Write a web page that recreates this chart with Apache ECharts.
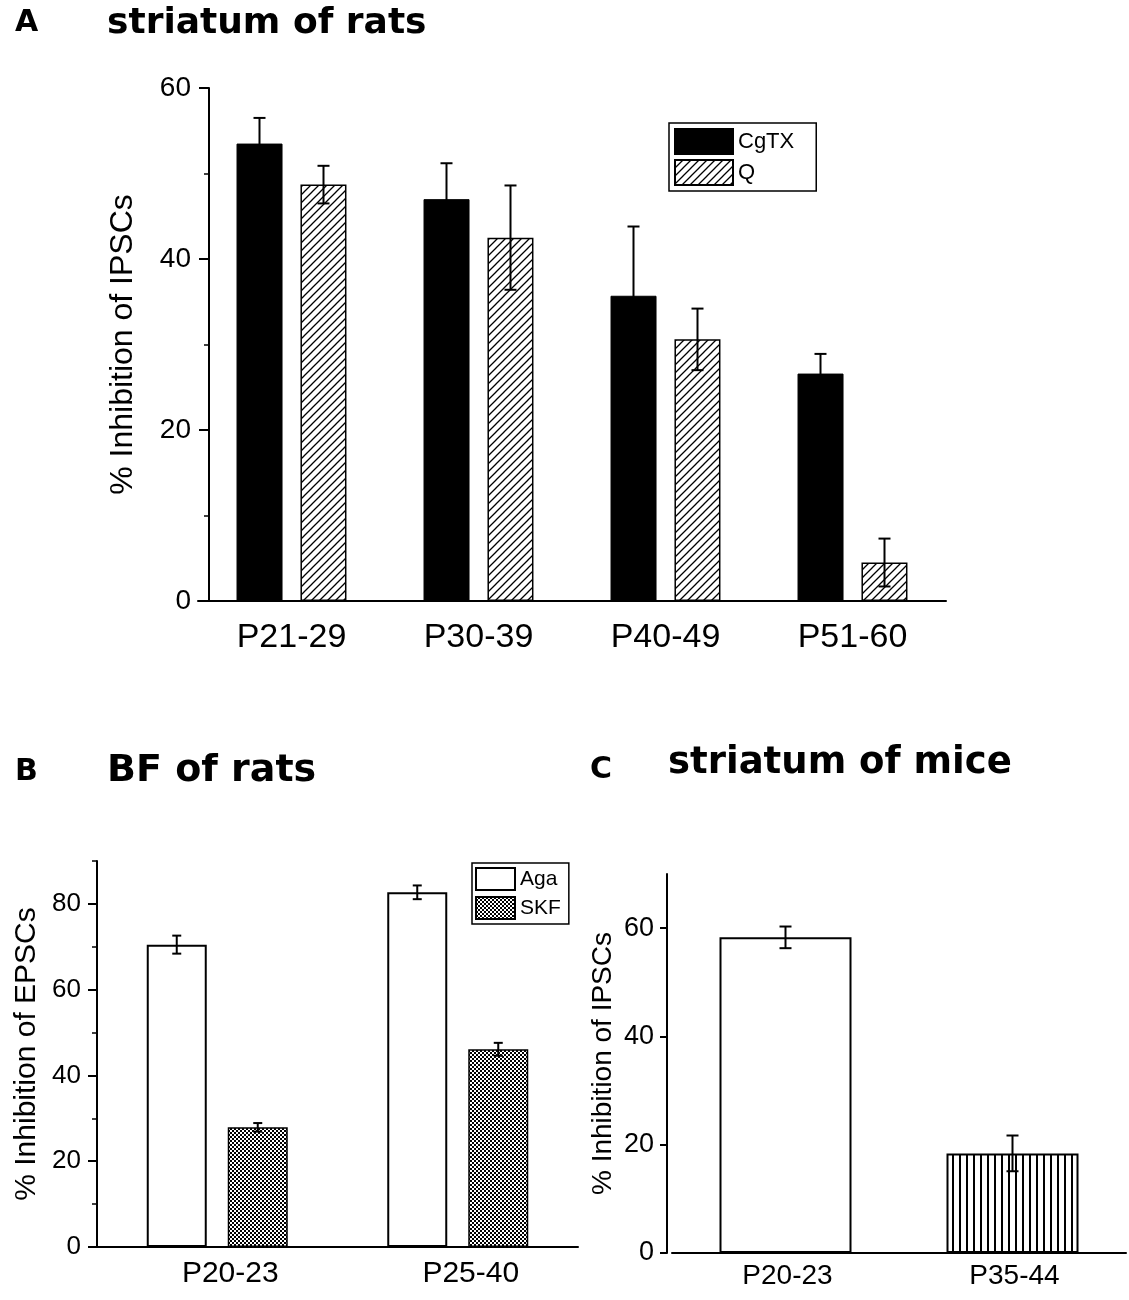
<!DOCTYPE html>
<html><head><meta charset="utf-8">
<script src="https://cdn.jsdelivr.net/npm/echarts@6/dist/echarts.min.js"></script>
<style>html,body{margin:0;padding:0;background:#fff}#c{width:1129px;height:1300px}</style>
</head><body><div id="c"></div><script>
// ---- data ----
const catsA = ['P21-29', 'P30-39', 'P40-49', 'P51-60'];
const cgtxVals = [53.5, 47.0, 35.7, 26.6];
const cgtxErr = [3.0, 4.2, 8.1, 2.3];
const qVals = [48.7, 42.5, 30.6, 4.5];
const qErr = [2.2, 6.1, 3.6, 2.8];
const ticksA = [0, 20, 40, 60];

const catsB = ['P20-23', 'P25-40'];
const agaVals = [70.5, 82.7];
const agaErr = [2.1, 1.6];
const skfVals = [27.9, 46.1];
const skfErr = [1.0, 1.5];
const ticksB = [0, 20, 40, 60, 80];

const catsC = ['P20-23', 'P35-44'];
const miceVals = [58.3, 18.4];
const miceErr = [2.0, 3.3];
const ticksC = [0, 20, 40, 60];

// ---- patterns ----
function tile(w, h, draw) {
  const c = document.createElement('canvas'); c.width = w; c.height = h;
  draw(c.getContext('2d')); return { image: c, repeat: 'repeat' };
}
const hatch = tile(8, 8, g => {
  g.fillStyle = '#fff'; g.fillRect(0, 0, 8, 8);
  g.strokeStyle = '#000'; g.lineWidth = 1.3; g.beginPath();
  g.moveTo(-1, 9); g.lineTo(9, -1); g.moveTo(-1, 1); g.lineTo(1, -1); g.moveTo(7, 9); g.lineTo(9, 7);
  g.stroke();
});
const checker = tile(4, 4, g => {
  g.fillStyle = '#000'; g.fillRect(0, 0, 4, 4);
  g.fillStyle = '#fff'; g.fillRect(0, 0, 2, 2); g.fillRect(2, 2, 2, 2);
});
const stripes = tile(7, 4, g => {
  g.fillStyle = '#fff'; g.fillRect(0, 0, 7, 4);
  g.fillStyle = '#000'; g.fillRect(0, 0, 2, 4);
});
const fillsC = ['#ffffff', stripes];

const FONT = "'Liberation Sans', Arial, sans-serif";
const BOLD = "'DejaVu Sans', sans-serif";

function errSeries(cats, vals, errs, gi, yi, off, cap) {
  return {
    type: 'custom', xAxisIndex: gi, yAxisIndex: yi, z: 10, silent: true,
    data: cats.map((c, i) => [i, vals[i], errs[i]]),
    renderItem: (params, api) => {
      const i = api.value(0), v = api.value(1), e = api.value(2);
      const top = api.coord([i, v + e]), bot = api.coord([i, v - e]);
      const x = top[0] + off, s = { stroke: '#000', lineWidth: 2 };
      return { type: 'group', children: [
        { type: 'line', shape: { x1: x, y1: top[1], x2: x, y2: bot[1] }, style: s },
        { type: 'line', shape: { x1: x - cap / 2, y1: top[1], x2: x + cap / 2, y2: top[1] }, style: s },
        { type: 'line', shape: { x1: x - cap / 2, y1: bot[1], x2: x + cap / 2, y2: bot[1] }, style: s }
      ] };
    }
  };
}

function yMain(gi, max, ticks, fs, margin, tickLen, name, nfs, ngap, offset) {
  return {
    type: 'value', gridIndex: gi, min: 0, max: max, position: 'left', offset: offset,
    axisLine: { show: true, lineStyle: { color: '#000', width: 2 } },
    axisTick: { show: true, inside: false, length: tickLen, customValues: ticks, lineStyle: { color: '#000', width: 2 } },
    axisLabel: { customValues: ticks, color: '#000', fontSize: fs, fontFamily: FONT, margin: margin },
    splitLine: { show: false },
    name: name, nameLocation: 'middle', nameGap: ngap,
    nameTextStyle: { color: '#000', fontSize: nfs, fontFamily: FONT }
  };
}
function yMinor(gi, max, offset) {
  return {
    type: 'value', gridIndex: gi, min: 0, max: max, interval: 10, position: 'left', offset: offset,
    axisLine: { show: false }, axisLabel: { show: false }, splitLine: { show: false },
    axisTick: { show: true, length: 5, lineStyle: { color: '#000', width: 1.5 } }
  };
}
function xCat(gi, cats, fs, margin, pad) {
  return {
    type: 'category', gridIndex: gi, data: cats,
    axisLine: { show: true, lineStyle: { color: '#000', width: 2 } },
    axisTick: { show: false },
    axisLabel: { color: '#000', fontSize: fs, fontFamily: FONT, margin: margin, padding: pad },
    splitLine: { show: false }
  };
}
function ttl(text, left, top, fs) {
  return { text: text, left: left, top: top, padding: 0,
    textStyle: { fontFamily: BOLD, fontWeight: 'bold', fontSize: fs, color: '#000' } };
}

const chart = echarts.init(document.getElementById('c'), null, { renderer: 'canvas' });
chart.setOption({
  animation: false,
  backgroundColor: '#fff',
  title: [
    ttl('A', 15, 8, 30), ttl('striatum of rats', 107, 6, 36),
    ttl('B', 15, 757, 30), ttl('BF of rats', 107, 752, 38),
    ttl('C', 590, 755, 30), ttl('striatum of mice', 668, 745, 37)
  ],
  legend: [
    { data: ['CgTX', 'Q'], orient: 'vertical', left: 669, top: 123, selectedMode: false,
      itemWidth: 58, itemHeight: 25, itemGap: 4, itemTextGap: 10, icon: 'rect',
      padding: [5, 22, 5, 5], borderColor: '#000', borderWidth: 1.5,
      textStyle: { color: '#000', fontSize: 22, fontFamily: FONT } },
    { data: ['Aga', 'SKF'], orient: 'vertical', left: 472, top: 863, selectedMode: false,
      itemWidth: 39, itemHeight: 22, itemGap: 5, itemTextGap: 4, icon: 'rect',
      padding: [4, 8, 4, 3], borderColor: '#000', borderWidth: 1.5,
      textStyle: { color: '#000', fontSize: 21, fontFamily: FONT } }
  ],
  grid: [
    { left: 198, top: 88, width: 748, height: 513, outerBoundsMode: 'none', containLabel: false },
    { left: 97, top: 861, width: 481, height: 386, outerBoundsMode: 'none', containLabel: false },
    { left: 672, top: 874, width: 454, height: 379, outerBoundsMode: 'none', containLabel: false }
  ],
  xAxis: [xCat(0, catsA, 34, 20, 0), xCat(1, catsB, 30, 12, [0, 0, 0, 26]), xCat(2, catsC, 28, 9, [0, 0, 0, 4])],
  yAxis: [
    yMain(0, 60, ticksA, 28, 18, 10, '% Inhibition of IPSCs', 32, 70, -11),
    yMinor(0, 60, -11),
    yMain(1, 90, ticksB, 26, 16, 9, '% Inhibition of EPSCs', 30, 55, 0),
    yMinor(1, 90, 0),
    yMain(2, 70, ticksC, 27, 13, 7, '% Inhibition of IPSCs', 28, 50, 5)
  ],
  series: [
    { name: 'CgTX', type: 'bar', xAxisIndex: 0, yAxisIndex: 0, data: cgtxVals, barWidth: 46, barGap: '39%',
      itemStyle: { color: '#000', borderColor: '#000', borderWidth: 1 } },
    { name: 'Q', type: 'bar', xAxisIndex: 0, yAxisIndex: 0, data: qVals, barWidth: 46, barGap: '39%',
      itemStyle: { color: hatch, borderColor: '#000', borderWidth: 1.5 } },
    errSeries(catsA, cgtxVals, cgtxErr, 0, 0, -32, 12),
    errSeries(catsA, qVals, qErr, 0, 0, 32, 12),

    { name: 'Aga', type: 'bar', xAxisIndex: 1, yAxisIndex: 2, data: agaVals, barWidth: 60, barGap: '35%',
      itemStyle: { color: '#fff', borderColor: '#000', borderWidth: 2 } },
    { name: 'SKF', type: 'bar', xAxisIndex: 1, yAxisIndex: 2, data: skfVals, barWidth: 60, barGap: '35%',
      itemStyle: { color: checker, borderColor: '#000', borderWidth: 1.5 } },
    errSeries(catsB, agaVals, agaErr, 1, 2, -40.5, 9),
    errSeries(catsB, skfVals, skfErr, 1, 2, 40.5, 9),

    { name: 'mice', type: 'bar', xAxisIndex: 2, yAxisIndex: 4, barWidth: 132,
      data: miceVals.map((v, i) => ({ value: v, itemStyle: { color: fillsC[i] } })),
      itemStyle: { borderColor: '#000', borderWidth: 2 } },
    errSeries(catsC, miceVals, miceErr, 2, 4, 0, 12)
  ]
});
</script></body></html>
